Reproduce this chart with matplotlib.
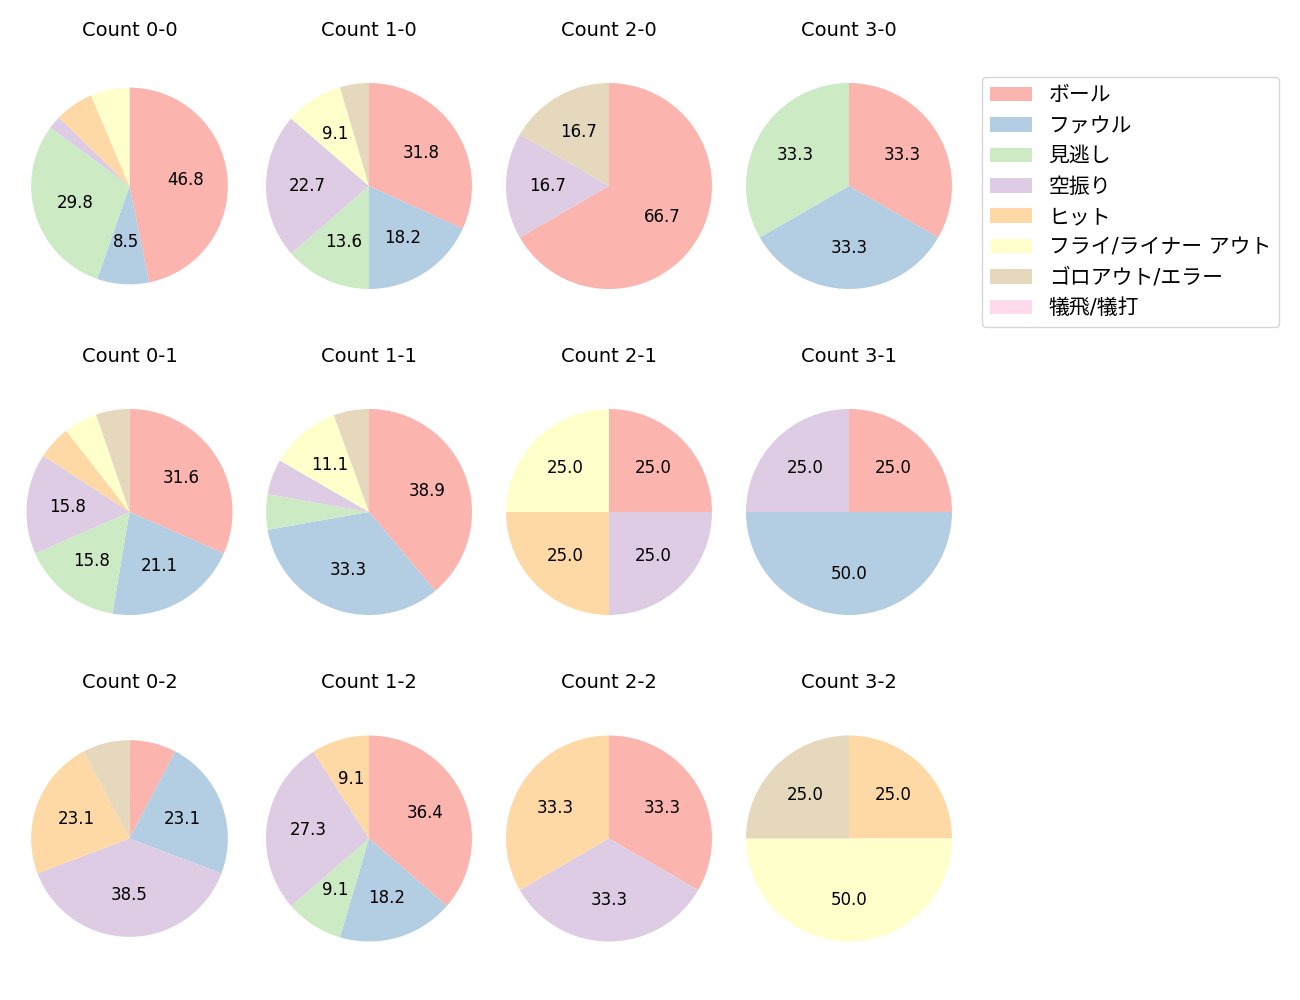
import matplotlib
matplotlib.use('Agg')
import matplotlib.pyplot as plt

plt.rcParams['font.family'] = ['DejaVu Sans', 'Noto Sans CJK JP']

categories = ['ボール', 'ファウル', '見逃し', '空振り', 'ヒット',
              'フライ/ライナー アウト', 'ゴロアウト/エラー', '犠飛/犠打']

# pitch results per count (same order as categories)
count_0_0 = [22, 4, 14, 1, 3, 3, 0, 0]
count_1_0 = [7, 4, 3, 5, 0, 2, 1, 0]
count_2_0 = [4, 0, 0, 1, 0, 0, 1, 0]
count_3_0 = [1, 1, 1, 0, 0, 0, 0, 0]
count_0_1 = [6, 4, 3, 3, 1, 1, 1, 0]
count_1_1 = [7, 6, 1, 1, 0, 2, 1, 0]
count_2_1 = [1, 0, 0, 1, 1, 1, 0, 0]
count_3_1 = [1, 2, 0, 1, 0, 0, 0, 0]
count_0_2 = [1, 3, 0, 5, 3, 0, 1, 0]
count_1_2 = [4, 2, 1, 3, 1, 0, 0, 0]
count_2_2 = [1, 0, 0, 1, 1, 0, 0, 0]
count_3_2 = [0, 0, 0, 0, 1, 2, 1, 0]

titles = [['Count 0-0', 'Count 1-0', 'Count 2-0', 'Count 3-0'],
          ['Count 0-1', 'Count 1-1', 'Count 2-1', 'Count 3-1'],
          ['Count 0-2', 'Count 1-2', 'Count 2-2', 'Count 3-2']]
data = [[count_0_0, count_1_0, count_2_0, count_3_0],
        [count_0_1, count_1_1, count_2_1, count_3_1],
        [count_0_2, count_1_2, count_2_2, count_3_2]]

colors = [plt.cm.Pastel1(i) for i in range(8)]

W, H = 1300, 1000
fig = plt.figure(figsize=(13, 10), dpi=100)

R = 103.0
side = 2.5 * R
col_cx = [129.5, 369, 609, 849]
row_cy = [186, 512, 838.5]
small = {(0, 0), (2, 0)}

def fmt(p):
    return '%.1f' % p if p >= 8 else ''

handles = None
for r in range(3):
    for c in range(4):
        cx, cy = col_cx[c], row_cy[r]
        ax = fig.add_axes([(cx - side / 2) / W, (H - cy - side / 2) / H, side / W, side / H])
        rad = 0.955 if (r, c) in small else 1.0
        wedges, texts, autotexts = ax.pie(data[r][c], colors=colors, startangle=90,
                                          counterclock=False, autopct=fmt,
                                          radius=rad, pctdistance=0.6 * rad,
                                          textprops={'fontsize': 12})
        ax.set_xlim(-1.25, 1.25)
        ax.set_ylim(-1.25, 1.25)
        ax.set_aspect('equal')
        ax.set_title(titles[r][c], fontsize=14, pad=15.5)
        if handles is None:
            handles = wedges

fig.legend(handles, categories, loc='upper left',
           bbox_to_anchor=(982 / W, 1 - 77 / H), borderaxespad=0,
           fontsize=15)

fig.savefig('out.png', dpi=100)
